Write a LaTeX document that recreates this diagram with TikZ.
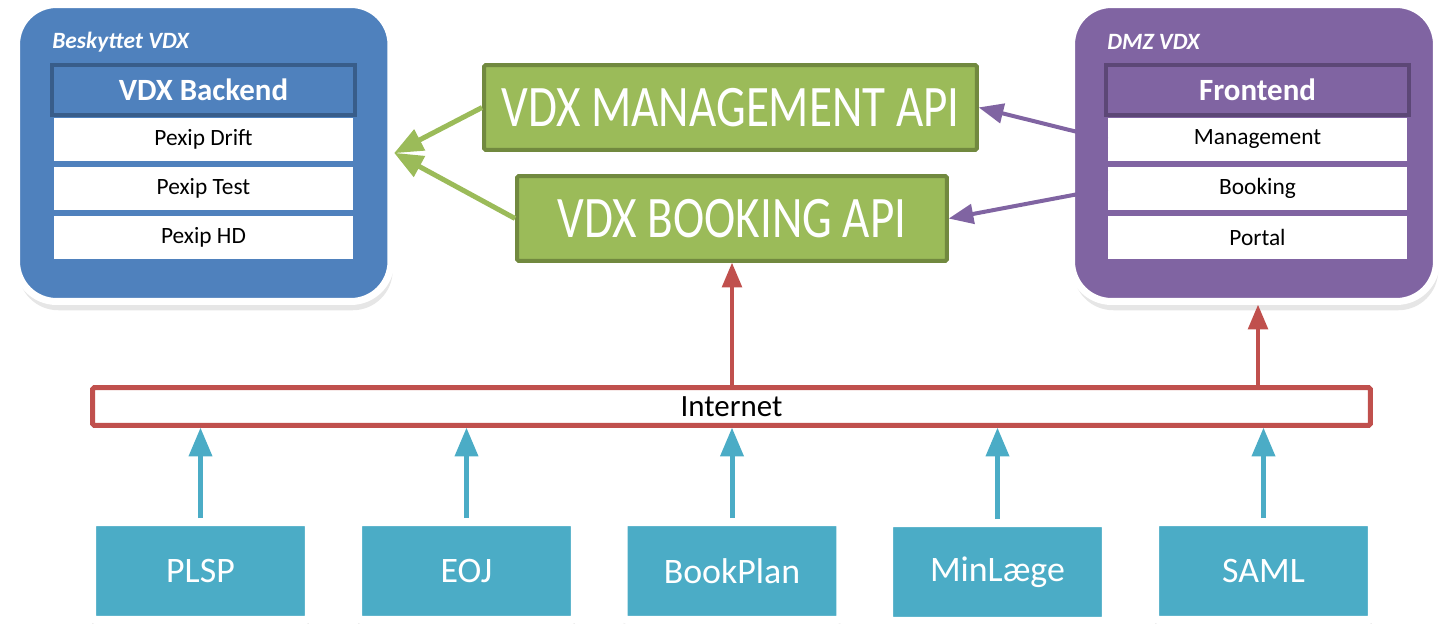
\documentclass[tikz,border=0pt]{standalone}
\usepackage{fontspec}
\setmainfont{Carlito}
\newfontfamily\apifont[FakeStretch=0.8]{Carlito}
\usetikzlibrary{arrows,shadows}

\definecolor{zoneblue}{HTML}{4F81BD}
\definecolor{zonebluedark}{HTML}{385D8A}
\definecolor{zonepurple}{HTML}{8064A2}
\definecolor{zonepurpledark}{HTML}{5C4776}
\definecolor{apigreen}{HTML}{9BBB59}
\definecolor{apigreendark}{HTML}{71893F}
\definecolor{netred}{HTML}{C0504D}
\definecolor{clientteal}{HTML}{4BACC6}

\begin{document}
\begin{tikzpicture}[x=0.02cm,y=-0.02cm]
            \tikzstyle{zone}=[draw=white, line width=0.14cm, rounded corners=0.8cm, minimum height=5.94cm, drop shadow={shadow xshift=1pt, shadow yshift=-5pt, opacity=0.2}]
            \tikzstyle{zonetitle}=[anchor=west, inner sep=0, text=white, font=\bfseries\itshape\fontsize{13.3}{16}\selectfont]
            \tikzstyle{header}=[line width=0.08cm, minimum width=6.06cm, minimum height=1cm, inner sep=0, text=white, font=\bfseries\fontsize{17.6}{21}\selectfont]
            \tikzstyle{slot}=[fill=white, minimum width=5.98cm, minimum height=0.86cm, inner sep=0, font=\fontsize{13.3}{16}\selectfont]
            \tikzstyle{api}=[fill=apigreen, draw=apigreendark, line width=0.08cm, rounded corners=1pt, minimum height=1.7cm, inner sep=0, text=white, font=\apifont\fontsize{33.5}{40}\selectfont]
            \tikzstyle{inet}=[fill=white, draw=netred, line width=0.1cm, rounded corners=1pt, minimum width=25.56cm, minimum height=0.76cm, inner sep=0, font=\fontsize{17.6}{21}\selectfont]
            \tikzstyle{client}=[fill=clientteal, draw=white, line width=0.16cm, rounded corners=2pt, minimum width=4.34cm, minimum height=1.96cm, inner sep=0, text=white, font=\fontsize{20.4}{24}\selectfont, drop shadow={shadow xshift=0pt, shadow yshift=-4pt, opacity=0.15}]
            \tikzstyle{greenwire}=[-triangle 45, line width=0.1cm, apigreen]
            \tikzstyle{purplewire}=[-triangle 45, line width=0.08cm, zonepurple]
            \tikzstyle{redwire}=[-triangle 45, line width=0.08cm, netred]
            \tikzstyle{tealwire}=[-triangle 45, line width=0.1cm, clientteal]

            \useasboundingbox (0,0) rectangle (1441,624);

            % protected zone
            \node[zone, fill=zoneblue, minimum width=7.49cm] (backend) at (203.75,153) {};
            \node[zonetitle] (backendtitle) at (52,42) {Beskyttet VDX};
            \node[header, fill=zoneblue, draw=zonebluedark] (backendhead) at (203.5,90) {VDX Backend};
            \node[slot] (drift) at (203.5,139.5) {Pexip Drift};
            \node[slot] (test) at (203.5,188.5) {Pexip Test};
            \node[slot] (hd) at (203.5,237.5) {Pexip HD};

            % dmz zone
            \node[zone, fill=zonepurple, minimum width=7.3cm] (dmz) at (1254,153) {};
            \node[zonetitle] (dmztitle) at (1107,42) {DMZ VDX};
            \node[header, fill=zonepurple, draw=zonepurpledark] (frontend) at (1257.5,90) {Frontend};
            \node[slot] (management) at (1257.5,139.5) {Management};
            \node[slot] (booking) at (1257.5,188.5) {Booking};
            \node[slot] (portal) at (1257.5,237.5) {Portal};

            % apis
            \node[api, minimum width=9.86cm] (mgmtapi) at (730.5,107.5) {VDX MANAGEMENT API};
            \node[api, minimum width=8.6cm] (bookapi) at (732,218.5) {VDX BOOKING API};

            % internet
            \node[inet] (internet) at (731.5,406.5) {Internet};
            \coordinate (netbook) at (732,387.5);
            \coordinate (netdmz) at (1258,387.5);

            % clients
            \node[client] (plsp) at (200.5,571) {PLSP};
            \node[client] (eoj) at (466.5,571) {EOJ};
            \node[client] (bookplan) at (732,571) {BookPlan};
            \node[client] (minlaege) at (997.5,572) {MinLæge};
            \node[client] (saml) at (1263.5,571) {SAML};

            % api wires
            \draw[greenwire] (mgmtapi.west) -- (backend.east);
            \draw[greenwire] (bookapi.west) -- (backend.east);
            \draw[purplewire] (management.west) -- (mgmtapi.east);
            \draw[purplewire] (booking.west) -- (bookapi.east);

            % internet wires
            \draw[redwire] (netbook) -- (bookapi.south);
            \draw[redwire] (netdmz) -- (netdmz |- dmz.south);

            % client wires
            \draw[tealwire] (plsp.north) -- (plsp.north |- internet.south);
            \draw[tealwire] (eoj.north) -- (eoj.north |- internet.south);
            \draw[tealwire] (bookplan.north) -- (bookplan.north |- internet.south);
            \draw[tealwire] (minlaege.north) -- (minlaege.north |- internet.south);
            \draw[tealwire] (saml.north) -- (saml.north |- internet.south);
\end{tikzpicture}
\end{document}
